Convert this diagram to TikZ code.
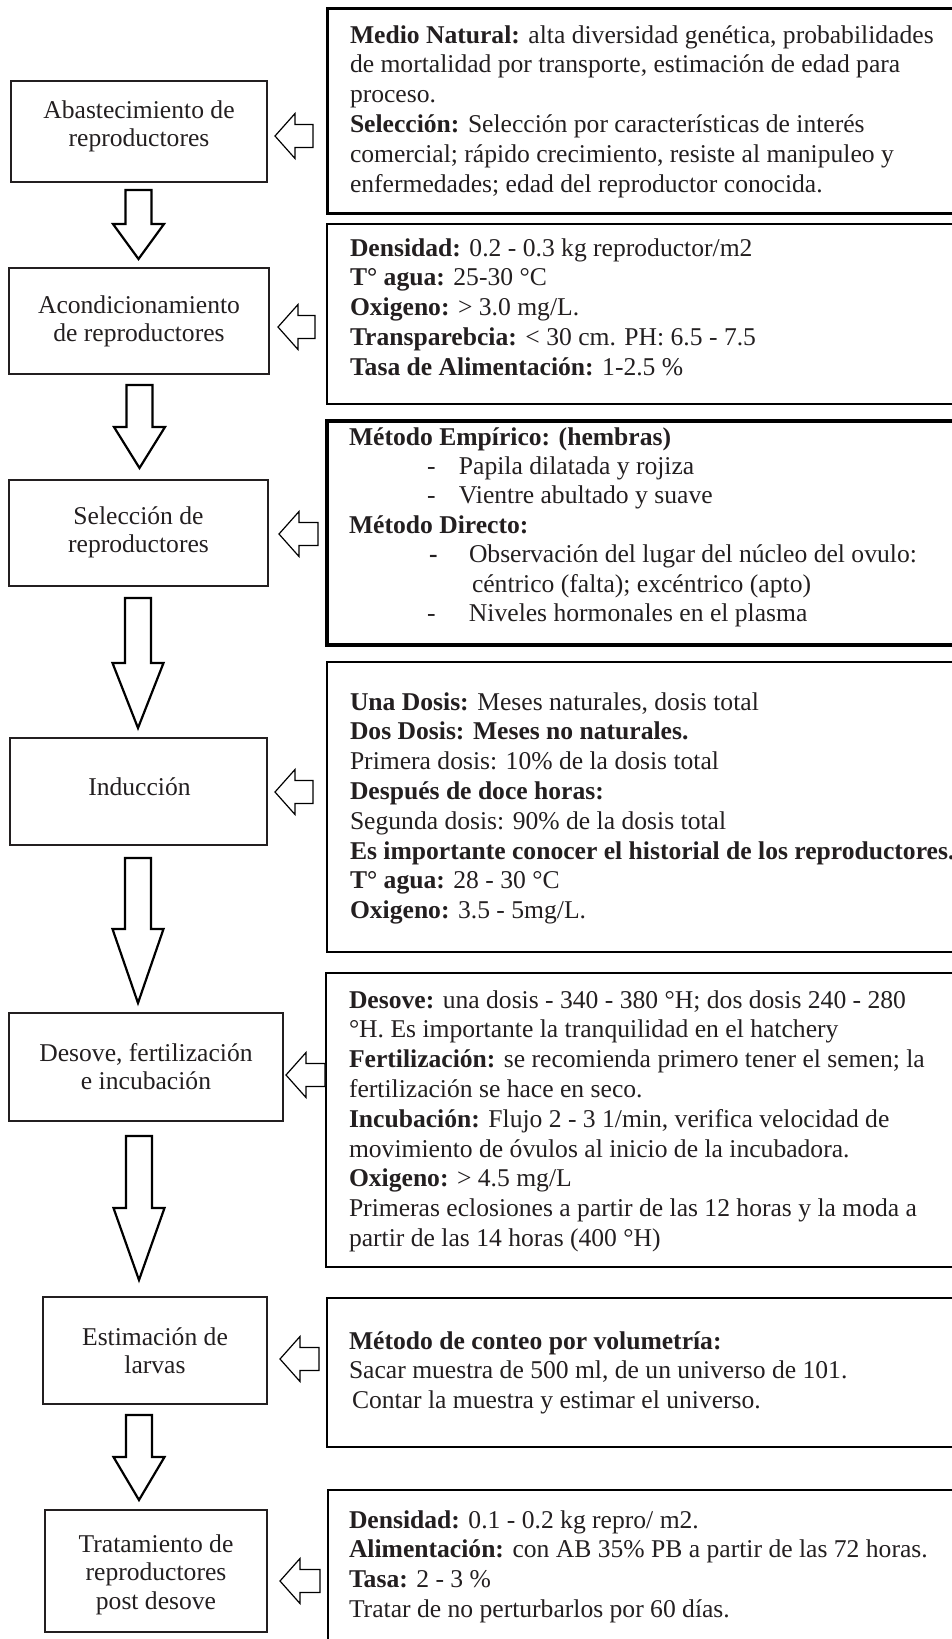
\documentclass[tikz,border=0pt]{standalone}
\usepackage{fontspec}
\setmainfont{Liberation Serif}
\usetikzlibrary{calc}
\definecolor{ink}{HTML}{231F20}
\newcommand{\rtxt}{\fontsize{25.6pt}{29.8pt}\selectfont}
\newcommand{\rtxtb}{\fontsize{25.6pt}{29.4pt}\selectfont}
\newcommand{\ltxt}{\fontsize{25.6pt}{28.8pt}\selectfont}
% hollow block arrow pointing down: start coord, tip coord, head length
\newcommand{\blockdown}[3]{%
  \draw[blkdown] let \p1=(#1), \p2=(#2) in
    (\x2-13pt,\y1) -- (\x2+13pt,\y1) -- (\x2+13pt,\y2+#3) -- (\x2+25.5pt,\y2+#3)
    -- (\x2,\y2) -- (\x2-25.5pt,\y2+#3) -- (\x2-13pt,\y2+#3) -- cycle;}
% hollow block arrow pointing left: tail coord, tip coord, head length
\newcommand{\blockleft}[3]{%
  \draw[blkleft] let \p1=(#1), \p2=(#2) in
    (\x1,\y2-11.5pt) -- (\x2+#3,\y2-11.5pt) -- (\x2+#3,\y2-22.5pt) -- (\x2,\y2)
    -- (\x2+#3,\y2+22.5pt) -- (\x2+#3,\y2+11.5pt) -- (\x1,\y2+11.5pt) -- cycle;}
\begin{document}
\begin{tikzpicture}[x=1pt,y=-1pt,
  lbox/.style={draw=ink, line width=1.3pt, rectangle, inner sep=0pt, outer sep=0pt, anchor=north west},
  rbox/.style={draw=black, rectangle, inner sep=0pt, outer sep=0pt, anchor=north west, minimum width=660pt},
  txt/.style={inner sep=0pt, outer sep=0pt, text=ink},
  blkdown/.style={draw=black, line width=2.2pt, line join=miter, fill=white},
  blkleft/.style={draw=black, line width=1.2pt, line join=miter, fill=white}]
\useasboundingbox (0,0) rectangle (952,1639);
\clip (0,0) rectangle (952,1639);

% ---------- right boxes ----------
\node[rbox, line width=3pt,   minimum height=205pt] (r1) at (327,8) {};
\node[rbox, line width=2pt,   minimum height=180pt] (r2) at (327,224) {};
\node[rbox, line width=3.3pt, minimum height=224pt] (r3) at (327,421) {};
\node[rbox, line width=2pt,   minimum height=290pt] (r4) at (327,662) {};
\node[rbox, line width=2pt,   minimum height=294pt] (r5) at (326,973) {};
\node[rbox, line width=1.3pt, minimum height=149pt] (r6) at (327,1298) {};
\node[rbox, line width=2.7pt, minimum height=200pt] (r7) at (328,1490) {};

% ---------- left boxes ----------
\node[lbox, minimum width=256pt, minimum height=101pt] (b1) at (11,81) {};
\node[lbox, minimum width=260pt, minimum height=106pt] (b2) at (9,268) {};
\node[lbox, minimum width=259pt, minimum height=106pt] (b3) at (9,480) {};
\node[lbox, minimum width=257pt, minimum height=107pt] (b4) at (10,738) {};
\node[lbox, minimum width=274pt, minimum height=108pt] (b5) at (9,1013) {};
\node[lbox, minimum width=224pt, minimum height=107pt] (b6) at (43,1297) {};
\node[lbox, minimum width=222pt, minimum height=122pt] (b7) at (45,1510) {};

% ---------- down arrows ----------
\coordinate (d1a) at (138.5,190);  \coordinate (d1b) at (138.5,259);
\coordinate (d2a) at (139.5,385);  \coordinate (d2b) at (139.5,468);
\coordinate (d3a) at (138,598);    \coordinate (d3b) at (138,728);
\coordinate (d4a) at (138,858);    \coordinate (d4b) at (138,1003);
\coordinate (d5a) at (139,1136);   \coordinate (d5b) at (139,1280);
\coordinate (d6a) at (139,1415);   \coordinate (d6b) at (139,1500);
\blockdown{d1a}{d1b}{35pt}
\blockdown{d2a}{d2b}{41pt}
\blockdown{d3a}{d3b}{65pt}
\blockdown{d4a}{d4b}{74pt}
\blockdown{d5a}{d5b}{72pt}
\blockdown{d6a}{d6b}{43pt}

% ---------- left arrows ----------
\coordinate (l1a) at (313,136);  \coordinate (l1b) at (275,136);
\coordinate (l2a) at (315,327);  \coordinate (l2b) at (278,327);
\coordinate (l3a) at (318,534);  \coordinate (l3b) at (279,534);
\coordinate (l4a) at (313,792);  \coordinate (l4b) at (275,792);
\coordinate (l5a) at (325,1075); \coordinate (l5b) at (286,1075);
\coordinate (l6a) at (319,1359); \coordinate (l6b) at (280,1359);
\coordinate (l7a) at (320,1581); \coordinate (l7b) at (280,1581);
\blockleft{l1a}{l1b}{20pt}
\blockleft{l2a}{l2b}{20pt}
\blockleft{l3a}{l3b}{20pt}
\blockleft{l4a}{l4b}{20pt}
\blockleft{l5a}{l5b}{20pt}
\blockleft{l6a}{l6b}{20pt}
\blockleft{l7a}{l7b}{20pt}

% ---------- left box texts ----------
\node[txt, anchor=base] (b1t) at (139,118) {\parbox[t]{270pt}{\centering\ltxt Abastecimiento de\\reproductores}};
\node[txt, anchor=base] (b2t) at (139,313) {\parbox[t]{270pt}{\centering\ltxt Acondicionamiento\\de reproductores}};
\node[txt, anchor=base] (b3t) at (138.5,524) {\parbox[t]{270pt}{\centering\ltxt Selección de\\reproductores}};
\node[txt, anchor=base] (b4t) at (139.5,795) {\parbox[t]{270pt}{\centering\ltxt Inducción}};
\node[txt, anchor=base] (b5t) at (146,1061) {\parbox[t]{280pt}{\centering\ltxt Desove, fertilización\\e incubación}};
\node[txt, anchor=base] (b6t) at (155,1345) {\parbox[t]{230pt}{\centering\ltxt Estimación de\\larvas}};
\node[txt, anchor=base] (b7t) at (156,1552) {\parbox[t]{230pt}{\centering\ltxt Tratamiento de\\reproductores\\post desove}};

% ---------- right box texts ----------
\node[txt, anchor=base west] (r1t) at (350,43) {\parbox[t]{700pt}{\raggedright\rtxt
\textbf{Medio Natural:} alta diversidad genética, probabilidades\\
de mortalidad por transporte, estimación de edad para\\
proceso.\\
\textbf{Selección:} Selección por características de interés\\
comercial; rápido crecimiento, resiste al manipuleo y\\
enfermedades; edad del reproductor conocida.}};

\node[txt, anchor=base west] (r2t) at (350,256) {\parbox[t]{700pt}{\raggedright\rtxt
\textbf{Densidad:} 0.2 - 0.3 kg reproductor/m2\\
\textbf{T° agua:} 25-30 °C\\
\textbf{Oxigeno:} > 3.0 mg/L.\\
\textbf{Transparebcia:} < 30 cm. PH: 6.5 - 7.5\\
\textbf{Tasa de Alimentación:} 1-2.5 \%}};

\node[txt, anchor=base west] (r3t) at (349,445) {\parbox[t]{700pt}{\raggedright\rtxtb
\textbf{Método Empírico: (hembras)}\\
\hspace*{78pt}\makebox[32pt][l]{-}Papila dilatada y rojiza\\
\hspace*{78pt}\makebox[32pt][l]{-}Vientre abultado y suave\\
\textbf{Método Directo:}\\
\hspace*{80pt}\makebox[40pt][l]{\textbf{-}}Observación del lugar del núcleo del ovulo:\\
\hspace*{123pt}céntrico (falta); excéntrico (apto)\\
\hspace*{78pt}\makebox[42pt][l]{-}Niveles hormonales en el plasma}};

\node[txt, anchor=base west] (r4t) at (350,710) {\parbox[t]{700pt}{\raggedright\rtxt
\textbf{Una Dosis:} Meses naturales, dosis total\\
\textbf{Dos Dosis: Meses no naturales.}\\
Primera dosis: 10\% de la dosis total\\
\textbf{Después de doce horas:}\\
Segunda dosis: 90\% de la dosis total\\
\textbf{Es importante conocer el historial de los reproductores.}\\
\textbf{T° agua:} 28 - 30 °C\\
\textbf{Oxigeno:} 3.5 - 5mg/L.}};

\node[txt, anchor=base west] (r5t) at (349,1008) {\parbox[t]{700pt}{\raggedright\rtxt
\textbf{Desove:} una dosis - 340 - 380 °H; dos dosis 240 - 280\\
°H. Es importante la tranquilidad en el hatchery\\
\textbf{Fertilización:} se recomienda primero tener el semen; la\\
fertilización se hace en seco.\\
\textbf{Incubación:} Flujo 2 - 3 1/min, verifica velocidad de\\
movimiento de óvulos al inicio de la incubadora.\\
\textbf{Oxigeno:} > 4.5 mg/L\\
Primeras eclosiones a partir de las 12 horas y la moda a\\
partir de las 14 horas (400 °H)}};

\node[txt, anchor=base west] (r6t) at (349,1349) {\parbox[t]{700pt}{\raggedright\rtxt
\textbf{Método de conteo por volumetría:}\\
Sacar muestra de 500 ml, de un universo de 101.\\
\hspace*{3pt}Contar la muestra y estimar el universo.}};

\node[txt, anchor=base west] (r7t) at (349,1528) {\parbox[t]{700pt}{\raggedright\rtxt
\textbf{Densidad:} 0.1 - 0.2 kg repro/ m2.\\
\textbf{Alimentación:} con AB 35\% PB a partir de las 72 horas.\\
\textbf{Tasa:} 2 - 3 \%\\
Tratar de no perturbarlos por 60 días.}};
\end{tikzpicture}
\end{document}
